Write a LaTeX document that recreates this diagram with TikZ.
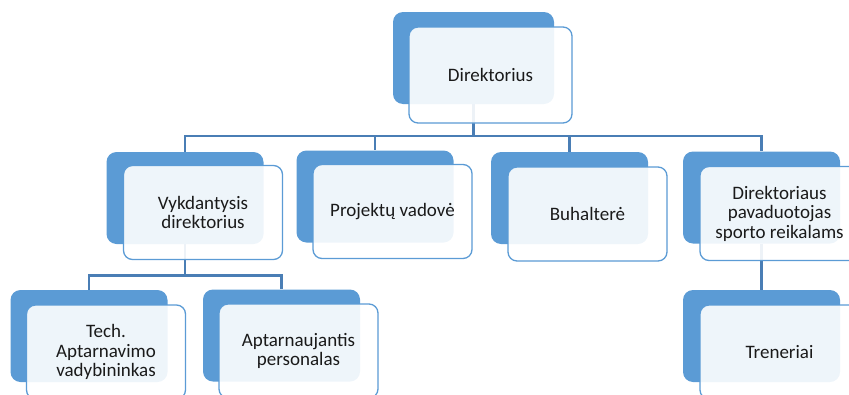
\documentclass[tikz,border=0pt]{standalone}
\usepackage{fontspec}
\setmainfont{Carlito}
\usetikzlibrary{backgrounds}
\definecolor{boxblue}{HTML}{5B9BD5}
\definecolor{linkblue}{HTML}{4A7EB5}
\definecolor{txt}{HTML}{1A1A1A}
\begin{document}
\begin{tikzpicture}[x=1pt,y=-1pt,
  back/.style={fill=boxblue, rounded corners=10pt, inner sep=0pt, minimum width=157pt, minimum height=92pt},
  front/.style={draw=boxblue, line width=1.3pt, fill=white, fill opacity=0.9, text opacity=1, rounded corners=9pt, inner sep=0pt, minimum width=159pt, minimum height=94pt, align=center, font=\fontsize{19}{19.5}\selectfont, text=txt},
  conn/.style={draw=linkblue, line width=2.8pt}]
\useasboundingbox (0,0) rectangle (849,394);
\clip (0,0) rectangle (849,394);
\coordinate (busA) at (0,136);
\coordinate (busB) at (0,275.5);
% level 0
\node[back, minimum width=161pt] (b0) at (473.5,58) {};
\node[front, minimum width=163pt, minimum height=96pt] (w0) at (490.5,75) {Direktorius};
% level 1
\node[back] (b1) at (185,198) {};
\node[front] (w1) at (203,212.5) {Vykdantysis\\direktorius};
\node[back] (b2) at (375,196.5) {};
\node[front] (w2) at (392.5,211.5) {Projektų vadovė};
\node[back] (b3) at (569.5,198) {};
\node[front] (w3) at (587.5,214) {Buhalterė};
\node[back] (b4) at (761.5,197.5) {};
\node[front] (w4) at (779.5,213.5) {Direktoriaus\\pavaduotojas\\sporto reikalams};
% level 2
\node[back] (b5) at (89,336) {};
\node[front] (w5) at (106,352) {Tech.\\Aptarnavimo\\vadybininkas};
\node[back] (b6) at (281.5,335.5) {};
\node[front] (w6) at (298.5,351) {Aptarnaujantis\\personalas};
\node[back] (b7) at (761.5,336) {};
\node[front] (w7) at (779.5,352) {Treneriai};
% connectors
\begin{scope}[on background layer]
\draw[conn] (b0.south) |- (b1.north |- busA) -- (b1.north);
\draw[conn] (b0.south) |- (b2.north |- busA) -- (b2.north);
\draw[conn] (b0.south) |- (b3.north |- busA) -- (b3.north);
\draw[conn] (b0.south) |- (b4.north |- busA) -- (b4.north);
\draw[conn] (b1.south) |- (b5.north |- busB) -- (b5.north);
\draw[conn] (b1.south) |- (b6.north |- busB) -- (b6.north);
\draw[conn] (b4.south) -- (b7.north);
\end{scope}
\end{tikzpicture}
\end{document}
